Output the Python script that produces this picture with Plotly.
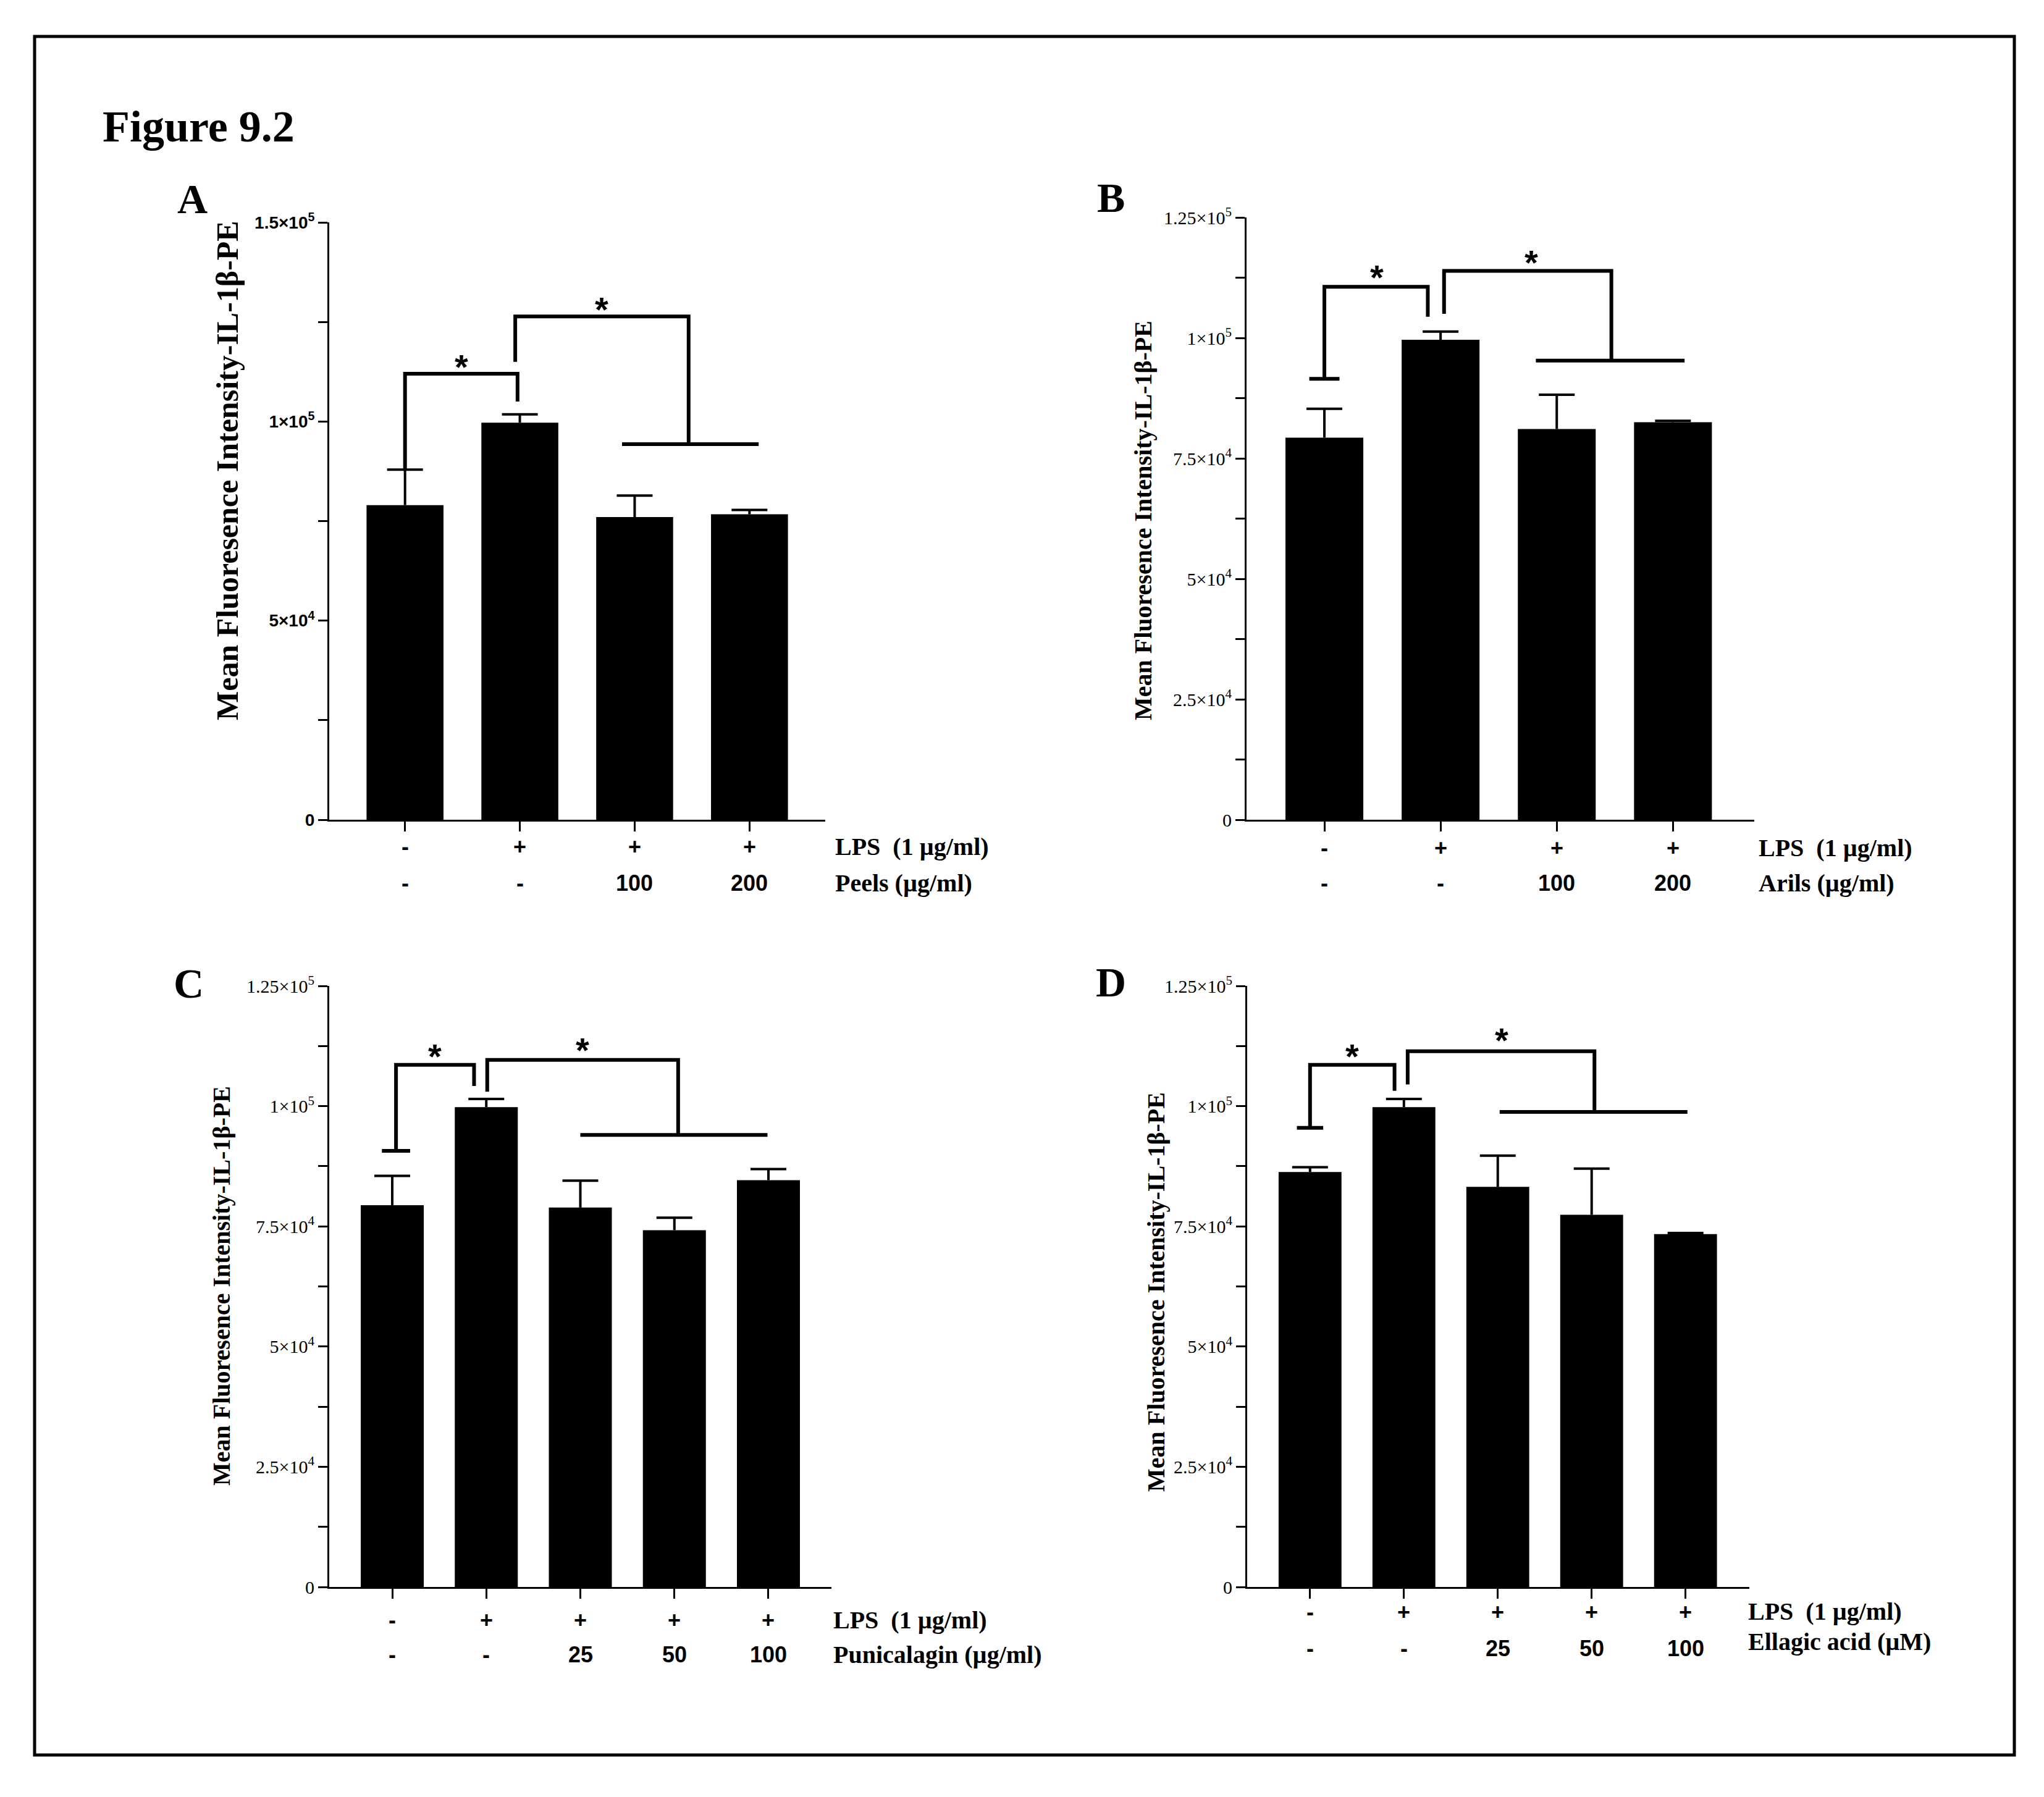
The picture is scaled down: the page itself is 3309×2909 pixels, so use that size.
import plotly.graph_objects as go

# the page body adds an 8px margin, so the figure is drawn 16px smaller
PAGE_W, PAGE_H = 3309, 2909
OFF = 8
W, H = PAGE_W - 2 * OFF, PAGE_H - 2 * OFF
SERIF = "Liberation Serif"
SANS = "Liberation Sans"

# ---- data ----
# A: peels
a_lps = ["-", "+", "+", "+"]
a_dose = ["-", "-", "100", "200"]
a_mean = [79000, 99700, 76000, 76700]
a_err = [8900, 2100, 5400, 1100]
a_br1_x = [0, 0, 0.98, 0.98]
a_br1_y = [88000, 112000, 112000, 105000]
a_br2_x = [0.96, 0.96, 2.47, 2.47]
a_br2_y = [115000, 126400, 126400, 94300]
a_line_x = [1.89, 3.08]
a_line_y = [94300, 94300]
a_star_x = [0.49, 1.71]
a_star_y = [115700, 130000]

# B: arils
b_lps = ["-", "+", "+", "+"]
b_dose = ["-", "-", "100", "200"]
b_mean = [79300, 99600, 81100, 82500]
b_err = [6000, 1700, 7100, 300]
b_br1_x = [0, 0, 0.89, 0.89]
b_br1_y = [91500, 110600, 110600, 104400]
b_cap_x = [-0.13, 0.13]
b_cap_y = [91500, 91500]
b_br2_x = [1.03, 1.03, 2.47, 2.47]
b_br2_y = [105000, 113900, 113900, 95300]
b_line_x = [1.82, 3.1]
b_line_y = [95300, 95300]
b_star_x = [0.45, 1.78]
b_star_y = [114200, 117200]

# C: punicalagin
c_lps = ["-", "+", "+", "+", "+"]
c_dose = ["-", "-", "25", "50", "100"]
c_mean = [79400, 99800, 78900, 74200, 84600]
c_err = [6100, 1700, 5600, 2600, 2300]
c_br1_x = [0.04, 0.04, 0.87, 0.87]
c_br1_y = [90700, 108600, 108600, 104200]
c_cap_x = [-0.11, 0.19]
c_cap_y = [90700, 90700]
c_br2_x = [1.01, 1.01, 3.04, 3.04]
c_br2_y = [103000, 109600, 109600, 94000]
c_line_x = [2.0, 3.99]
c_line_y = [94000, 94000]
c_star_x = [0.45, 2.02]
c_star_y = [112000, 113200]

# D: ellagic acid
d_lps = ["-", "+", "+", "+", "+"]
d_dose = ["-", "-", "25", "50", "100"]
d_mean = [86300, 99800, 83200, 77400, 73400]
d_err = [1000, 1700, 6500, 9600, 200]
d_br1_x = [0, 0, 0.9, 0.9]
d_br1_y = [95500, 108600, 108600, 103200]
d_cap_x = [-0.14, 0.14]
d_cap_y = [95500, 95500]
d_br2_x = [1.04, 1.04, 3.03, 3.03]
d_br2_y = [104500, 111400, 111400, 98800]
d_line_x = [2.02, 4.02]
d_line_y = [98800, 98800]
d_star_x = [0.45, 2.04]
d_star_y = [112000, 115300]

# y tick labels
a_tickvals = [0, 25000, 50000, 75000, 100000, 125000, 150000]
a_ticktext = ["0", "", "5×10<sup>4</sup>", "", "1×10<sup>5</sup>", "", "1.5×10<sup>5</sup>"]
bcd_tickvals = [i * 12500 for i in range(11)]
bcd_ticktext = ["0", "", "2.5×10<sup>4</sup>", "", "5×10<sup>4</sup>", "",
                "7.5×10<sup>4</sup>", "", "1×10<sup>5</sup>", "", "1.25×10<sup>5</sup>"]

y_title = "Mean Fluoresence Intensity-IL-1β-PE"

panels = [
    dict(letter="A", mean=a_mean, err=a_err, lps=a_lps, dose=a_dose, dose_label="Peels (µg/ml)",
         brackets=[(a_br1_x, a_br1_y), (a_br2_x, a_br2_y), (a_line_x, a_line_y)],
         stars=(a_star_x, a_star_y), ymax=150000, tv=a_tickvals, tt=a_ticktext,
         box=(533, 1336, 360, 1327), xr=[-0.66, 3.66], tickfont=dict(family=SANS, size=28, weight="bold"),
         rows=(43, 102, 43, 102), label_x=1350, letter_pos=(311, 322), title_pos=(368, 762), title_size=50),
    dict(letter="B", mean=b_mean, err=b_err, lps=b_lps, dose=b_dose, dose_label="Arils (µg/ml)",
         brackets=[(b_br1_x, b_br1_y), (b_cap_x, b_cap_y), (b_br2_x, b_br2_y), (b_line_x, b_line_y)],
         stars=(b_star_x, b_star_y), ymax=125000, tv=bcd_tickvals, tt=bcd_ticktext,
         box=(2018, 2840, 352, 1327), xr=[-0.67, 3.70], tickfont=dict(family=SERIF, size=30),
         rows=(45, 102, 45, 102), label_x=2845, letter_pos=(1798, 320), title_pos=(1850, 842), title_size=40),
    dict(letter="C", mean=c_mean, err=c_err, lps=c_lps, dose=c_dose, dose_label="Punicalagin (µg/ml)",
         brackets=[(c_br1_x, c_br1_y), (c_cap_x, c_cap_y), (c_br2_x, c_br2_y), (c_line_x, c_line_y)],
         stars=(c_star_x, c_star_y), ymax=125000, tv=bcd_tickvals, tt=bcd_ticktext,
         box=(533, 1346, 1596, 2569), xr=[-0.67, 4.67], tickfont=dict(family=SERIF, size=30),
         rows=(53, 109, 53, 109), label_x=1347, letter_pos=(305, 1592), title_pos=(358, 2082), title_size=40),
    dict(letter="D", mean=d_mean, err=d_err, lps=d_lps, dose=d_dose, dose_label="Ellagic acid (µM)",
         brackets=[(d_br1_x, d_br1_y), (d_cap_x, d_cap_y), (d_br2_x, d_br2_y), (d_line_x, d_line_y)],
         stars=(d_star_x, d_star_y), ymax=125000, tv=bcd_tickvals, tt=bcd_ticktext,
         box=(2019, 2832, 1596, 2569), xr=[-0.67, 4.68], tickfont=dict(family=SERIF, size=30),
         rows=(40, 99, 39, 88), label_x=2828, letter_pos=(1798, 1590), title_pos=(1871, 2092), title_size=40),
]


def px(v):
    return (v - OFF) / W


def py(v):
    return 1 - (v - OFF) / H


def paper_text(x, y, text, size, family=SERIF, angle=0, xanchor="center"):
    return dict(x=px(x), y=py(y), xref="paper", yref="paper", text=text,
                xanchor=xanchor, yanchor="middle", textangle=angle, showarrow=False,
                font=dict(family=family, size=size, color="black", weight="bold"))


fig = go.Figure()
annotations = []
layout_axes = {}

for k, p in enumerate(panels, start=1):
    suffix = "" if k == 1 else str(k)
    xa, ya = "x" + suffix, "y" + suffix
    n = len(p["mean"])
    cats = list(range(n))
    x0, x1, y0, y1 = p["box"]

    fig.add_trace(go.Bar(
        x=cats, y=p["mean"], width=0.67, xaxis=xa, yaxis=ya,
        marker=dict(color="black", line=dict(width=0)),
        showlegend=False, hoverinfo="skip",
    ))

    # upper-only error bars (stem + cap), no lower cap as in the original
    cap = 29 / ((x1 - x0) / (p["xr"][1] - p["xr"][0]))
    ex, ey = [], []
    for i, m, e in zip(cats, p["mean"], p["err"]):
        ex += [i, i, None, i - cap, i + cap, None]
        ey += [m, m + e, None, m + e, m + e, None]
    fig.add_trace(go.Scatter(x=ex, y=ey, mode="lines", xaxis=xa, yaxis=ya,
                             line=dict(color="black", width=4), showlegend=False,
                             hoverinfo="skip"))

    # significance brackets
    for bx, by in p["brackets"]:
        fig.add_trace(go.Scatter(x=bx, y=by, mode="lines", xaxis=xa, yaxis=ya,
                                 line=dict(color="black", width=6), showlegend=False,
                                 cliponaxis=False, hoverinfo="skip"))
    for sx, sy in zip(*p["stars"]):
        annotations.append(dict(x=sx, y=sy, xref=xa, yref=ya, text="*", showarrow=False,
                                xanchor="center", yanchor="middle", yshift=-12,
                                font=dict(family=SANS, size=56, color="black", weight="bold")))

    layout_axes["xaxis" + suffix] = dict(
        domain=[px(x0), px(x1)], range=p["xr"], anchor=ya, automargin=False,
        showline=True, linecolor="black", linewidth=3, showgrid=False, zeroline=False,
        tickvals=cats, ticks="outside", ticklen=16, tickwidth=3, tickcolor="black",
        showticklabels=False, fixedrange=True,
    )
    layout_axes["yaxis" + suffix] = dict(
        domain=[py(y1), py(y0)], range=[0, p["ymax"]], anchor=xa, automargin=False,
        showline=True, linecolor="black", linewidth=3, showgrid=False, zeroline=False,
        tickvals=p["tv"], ticktext=p["tt"], ticks="outside", ticklen=15, tickwidth=3,
        tickcolor="black", tickfont=dict(color="black", **p["tickfont"]), fixedrange=True,
    )

    r1, r2, l1, l2 = p["rows"]
    row_font = dict(family=SANS, size=36, color="black", weight="bold")
    for i in cats:
        annotations.append(dict(x=i, y=0, xref=xa, yref=ya, text=p["lps"][i], showarrow=False,
                                xanchor="center", yanchor="middle", yshift=-r1, font=row_font))
        annotations.append(dict(x=i, y=0, xref=xa, yref=ya, text=p["dose"][i], showarrow=False,
                                xanchor="center", yanchor="middle", yshift=-r2, font=row_font))
    lab_font = dict(family=SERIF, size=40, color="black", weight="bold")
    annotations.append(dict(x=px(p["label_x"]), y=0, xref="paper", yref=ya, text="LPS  (1 µg/ml)",
                            xanchor="left", yanchor="middle", yshift=-l1,
                            showarrow=False, font=lab_font))
    annotations.append(dict(x=px(p["label_x"]), y=0, xref="paper", yref=ya, text=p["dose_label"],
                            xanchor="left", yanchor="middle", yshift=-l2,
                            showarrow=False, font=lab_font))

    # axis title and panel letter
    tx, ty = p["title_pos"]
    annotations.append(paper_text(tx, ty, y_title, p["title_size"], angle=-90))
    lx, ly = p["letter_pos"]
    annotations.append(paper_text(lx, ly, p["letter"], 68))

annotations.append(paper_text(164, 205, "Figure 9.2", 72, xanchor="left"))

fig.update_layout(
    template=None,
    width=W, height=H,
    margin=dict(l=0, r=0, t=0, b=0, pad=0),
    paper_bgcolor="white", plot_bgcolor="white",
    annotations=annotations,
    shapes=[dict(type="rect", xref="paper", yref="paper",
                 x0=px(56), x1=px(3261), y0=py(2841), y1=py(59),
                 line=dict(color="black", width=5))],
    **layout_axes,
)

fig.write_html("out.html")
